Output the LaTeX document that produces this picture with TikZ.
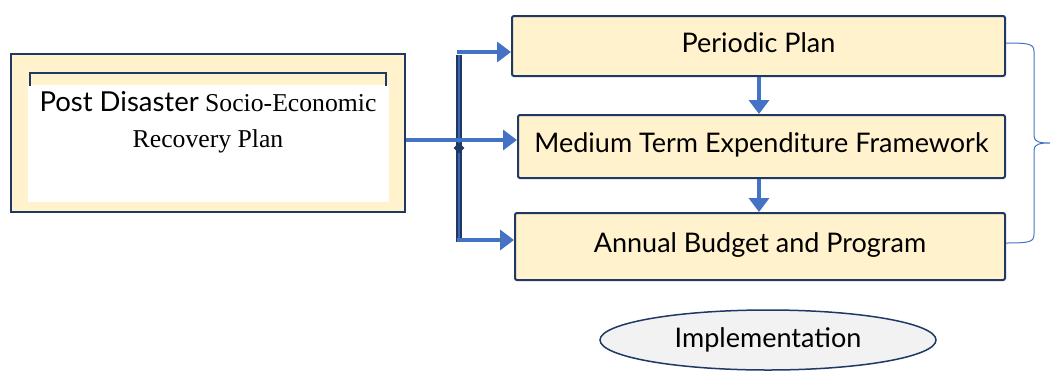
\documentclass[tikz,border=0pt]{standalone}
\usepackage{fontspec}
\setmainfont{Liberation Serif}
\newfontfamily\gillfont{Lato}
\usetikzlibrary{arrows.meta,shapes.geometric}
\definecolor{cream}{HTML}{FFF2CC}
\definecolor{navy}{HTML}{203864}
\definecolor{arrowblue}{HTML}{4472C4}
\definecolor{ovalgrey}{HTML}{F2F2F2}

\begin{document}
\begin{tikzpicture}[x=1pt, y=-1pt,
    planbox/.style={draw=navy, fill=cream, line width=2pt, rounded corners=2pt,
      text height=20pt, text depth=8pt,
      font=\gillfont\fontsize{27}{30}\selectfont},
    flow/.style={draw=arrowblue, line width=4pt, -{Triangle[length=14pt,width=20pt]}}]
  \useasboundingbox (0,0) rectangle (1053,376);
  % left block
  \node[draw=navy, fill=cream, line width=2pt, minimum width=394, minimum height=158] (pdrp) at (208,133) {};
  \node[fill=white, minimum width=361, minimum height=117, inner sep=0] (inner) at (208.5,143.5) {};
  \draw[navy, line width=2pt] (30,86) -- (30,73) -- (386,73) -- (386,86);
  \node[align=center, font=\fontsize{25.7}{36}\selectfont] (pdrptxt) at (208,122)
    {{\gillfont\fontsize{27.5}{36}\selectfont Post Disaster} Socio-Economic\\Recovery Plan};
  % plan chain
  \node[planbox, minimum width=493, minimum height=60] (periodic) at (758.5,46) {Periodic Plan};
  \node[planbox, minimum width=487, minimum height=63] (mtef) at (761.5,146.5) {Medium Term Expenditure Framework};
  \node[planbox, minimum width=490, minimum height=67] (annual) at (760,246.5) {Annual Budget and Program};
  \node[ellipse, draw=navy, fill=ovalgrey, line width=1.5pt, minimum width=336, minimum height=60,
    font=\gillfont\fontsize{27}{30}\selectfont] (impl) at (768,340) {Implementation};
  % branching connectors
  \coordinate (top) at (459,55);
  \coordinate (bot) at (459,242);
  \draw[navy, line width=6.5pt] (top) -- (bot);
  \draw[arrowblue!80!navy, line width=2.5pt] (top) -- (bot);
  \draw[flow] (457,52) -- (periodic.west |- 0,52);
  \draw[flow] (pdrp.east |- 0,140) -- (mtef.west |- 0,140);
  \draw[flow] (457,240) -- (annual.west |- 0,240);
  \node[diamond, fill=navy, inner sep=0, minimum size=11] (knot) at (459,148) {};
  \draw[flow] (periodic.south -| 759,0) -- (mtef.north -| 759,0);
  \draw[flow] (mtef.south -| 759,0) -- (annual.north -| 759,0);
  % brace
  \draw[arrowblue, line width=1pt] (periodic.east |- 0,43) .. controls (1030,43) and (1034,44) .. (1034,52)
    -- (1034,136) .. controls (1034,142) and (1040,143) .. (1050,143)
    .. controls (1040,143) and (1034,144) .. (1034,150) -- (1034,234)
    .. controls (1034,242) and (1030,243) .. (annual.east |- 0,243);
\end{tikzpicture}
\end{document}
